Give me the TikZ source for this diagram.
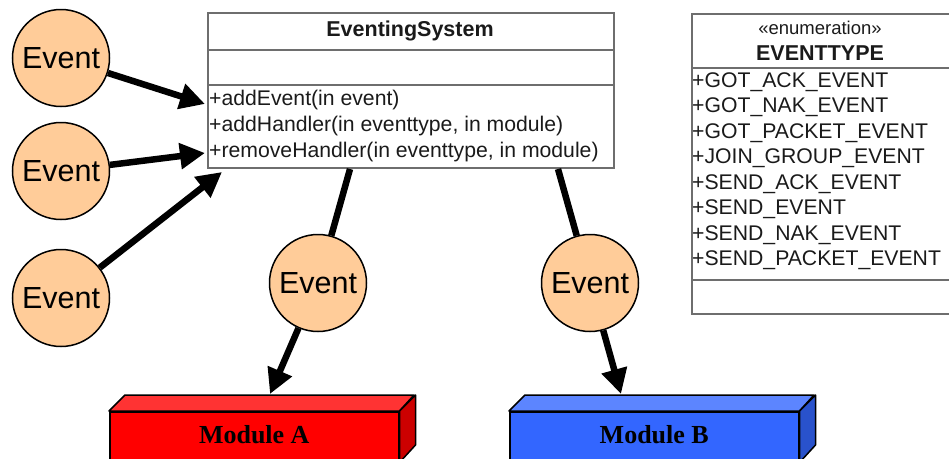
\documentclass[tikz,border=0pt]{standalone}
\usepackage{fontspec}
\setmainfont{Liberation Sans}
\newfontfamily\serifface{Liberation Serif}
\usetikzlibrary{arrows.meta}
\definecolor{peach}{HTML}{FFCC99}
\definecolor{umlgray}{HTML}{6E6E6E}
\definecolor{umltext}{HTML}{1A1A1A}
\definecolor{redfront}{HTML}{FF0000}
\definecolor{redtop}{HTML}{FF3333}
\definecolor{redside}{HTML}{CC0000}
\definecolor{bluefront}{HTML}{3366FF}
\definecolor{bluetop}{HTML}{5C85FF}
\definecolor{blueside}{HTML}{2952CC}
\begin{document}
\begin{tikzpicture}[x=1pt,y=-1pt,
  evt/.style={circle, draw=black, line width=1.5pt, fill=peach, minimum size=97pt, inner sep=0pt, font=\fontsize{30.5}{32}\selectfont},
  umlframe/.style={draw=umlgray, line width=2pt},
  umltxt/.style={anchor=west, inner sep=0pt, text=umltext, font=\fontsize{21.2}{23}\selectfont},
  flow/.style={line width=6.5pt, -{Triangle[length=25pt,width=25pt]}},
  link/.style={line width=6.5pt},
  modfront/.style={draw=black, line width=1.5pt, anchor=north west, inner sep=0pt, minimum width=289pt, minimum height=50pt, font=\serifface\bfseries\fontsize{26}{28}\selectfont},
  modface/.style={draw=black, line width=1.5pt, line join=round},
]
\useasboundingbox (0,0) rectangle (949,458);

% EventingSystem class
\node[umlframe, anchor=north west, minimum width=406pt, minimum height=155pt, inner sep=0pt] (es) at (207,12) {};
\draw[umlframe] (207,50) -- (613,50);
\draw[umlframe] (207,85) -- (613,85);
\node[text=umltext, font=\bfseries\fontsize{21.5}{23}\selectfont] (esname) at (410,31) {EventingSystem};
\node[umltxt] (m1) at (209,100) {+addEvent(in event)};
\node[umltxt] (m2) at (209,126) {+addHandler(in eventtype, in module)};
\node[umltxt] (m3) at (209,152) {+removeHandler(in eventtype, in module)};

% EVENTTYPE enumeration
\node[umlframe, anchor=north west, minimum width=264pt, minimum height=300pt, inner sep=0pt] (et) at (691,13) {};
\draw[umlframe] (691,68) -- (955,68);
\draw[umlframe] (691,280) -- (955,280);
\node[text=umltext, font=\fontsize{18.5}{20}\selectfont] (stereo) at (820,28) {«enumeration»};
\node[text=umltext, font=\bfseries\fontsize{21.5}{23}\selectfont] (etname) at (820,53) {EVENTTYPE};
\node[umltxt] (v1) at (692,82) {+GOT\_ACK\_EVENT};
\node[umltxt] (v2) at (692,107.5) {+GOT\_NAK\_EVENT};
\node[umltxt] (v3) at (692,133) {+GOT\_PACKET\_EVENT};
\node[umltxt] (v4) at (692,158.5) {+JOIN\_GROUP\_EVENT};
\node[umltxt] (v5) at (692,184) {+SEND\_ACK\_EVENT};
\node[umltxt] (v6) at (692,209.5) {+SEND\_EVENT};
\node[umltxt] (v7) at (692,235) {+SEND\_NAK\_EVENT};
\node[umltxt] (v8) at (692,260.5) {+SEND\_PACKET\_EVENT};

% Events
\node[evt] (e1) at (61,58) {Event};
\node[evt] (e2) at (61,171) {Event};
\node[evt] (e3) at (61,298) {Event};
\node[evt] (e4) at (318,283) {Event};
\node[evt] (e5) at (590,283) {Event};

% Modules
\node[modfront, fill=redfront] (modA) at (109,411) {\raisebox{4pt}{Module A}};
\draw[modface, fill=redtop] (modA.north west) -- ++(16,-16) -- ++(289,0) -- (modA.north east) -- cycle;
\draw[modface, fill=redside] (modA.north east) -- ++(16,-16) -- ++(0,50) -- (modA.south east) -- cycle;
\node[modfront, fill=bluefront] (modB) at (509,411) {\raisebox{4pt}{Module B}};
\draw[modface, fill=bluetop] (modB.north west) -- ++(16,-16) -- ++(289,0) -- (modB.north east) -- cycle;
\draw[modface, fill=blueside] (modB.north east) -- ++(16,-16) -- ++(0,50) -- (modB.south east) -- cycle;

% connector end points
\coordinate (t1) at (205,104);
\coordinate (t2) at (205,153);
\coordinate (t3) at (222,172);
\coordinate (s4) at (350,169);
\coordinate (s5) at (558,169);
\coordinate (tA) at (270,394);
\coordinate (tB) at (621,394);

\draw[flow] (e1) -- (t1);
\draw[flow] (e2) -- (t2);
\draw[flow] (e3) -- (t3);
\draw[link] (s4) -- (e4);
\draw[link] (s5) -- (e5);
\draw[flow] (e4) -- (tA);
\draw[flow] (e5) -- (tB);
\end{tikzpicture}
\end{document}
